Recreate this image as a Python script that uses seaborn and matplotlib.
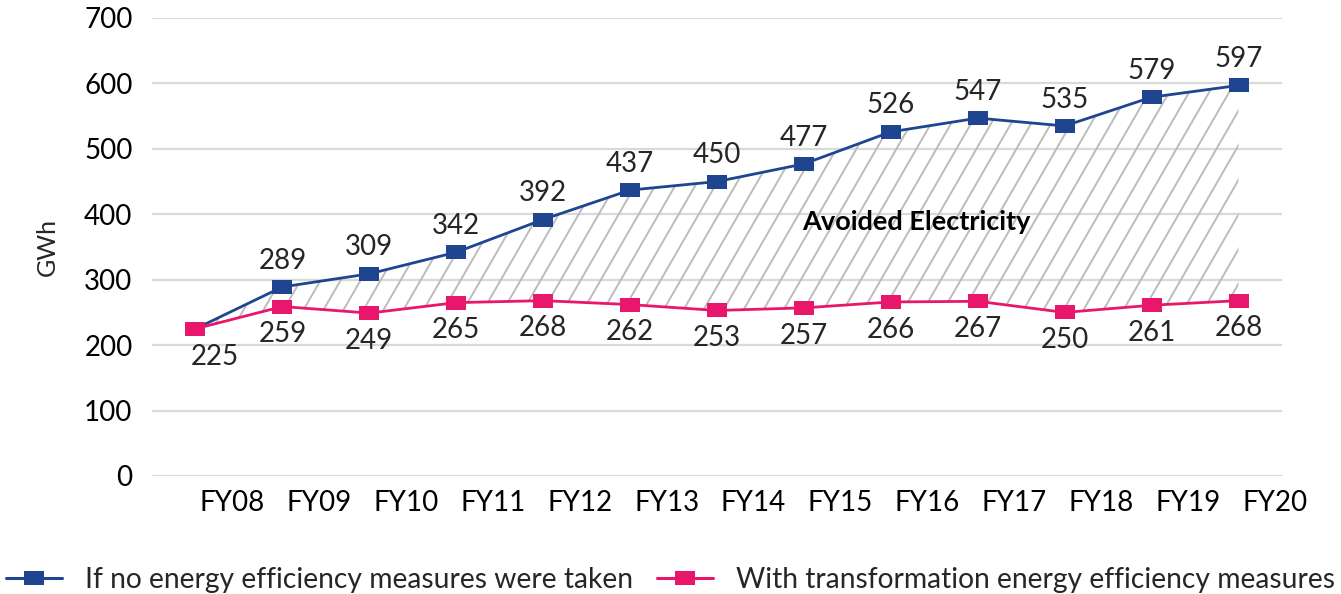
import numpy as np
import pandas as pd
import seaborn as sns
from matplotlib import pyplot as plt
from matplotlib.path import Path
from matplotlib.collections import LineCollection

# data
years = ["FY08", "FY09", "FY10", "FY11", "FY12", "FY13", "FY14",
         "FY15", "FY16", "FY17", "FY18", "FY19", "FY20"]
no_measures = [225, 289, 309, 342, 392, 437, 450, 477, 526, 547, 535, 579, 597]
with_measures = [225, 259, 249, 265, 268, 262, 253, 257, 266, 267, 250, 261, 268]
series_names = ["If no energy efficiency measures were taken",
                "With transformation energy efficiency measures"]

BLUE = "#1f4591"
PINK = "#e8176b"
GRID = "#d9d9d9"
HATCH = "#bcbcbc"

sns.set_style("white")
plt.rcParams["font.family"] = ["Lato", "DejaVu Sans"]

W, H = 1341, 594
fig = plt.figure(figsize=(W / 100, H / 100), dpi=100)
ax_l, ax_b, ax_w, ax_h = 152, 476, 1130, 458  # axes box in pixels
ax = fig.add_axes([ax_l / W, 1 - ax_b / H, ax_w / W, ax_h / H])

df = pd.DataFrame({
    "pos": list(range(len(years))) * 2,
    "GWh": no_measures + with_measures,
    "series": [series_names[0]] * len(years) + [series_names[1]] * len(years),
})

# slightly wide rectangle marker like the excel one
rect = Path([(-1, -0.72), (1, -0.72), (1, 0.72), (-1, 0.72), (-1, -0.72)],
            [Path.MOVETO, Path.LINETO, Path.LINETO, Path.LINETO, Path.CLOSEPOLY])

sns.lineplot(data=df, x="pos", y="GWh", hue="series",
             palette=[BLUE, PINK], marker=rect, markersize=14,
             markeredgewidth=0, linewidth=2.0, legend=False, ax=ax)

# hatched "avoided" area between the two lines
x = np.arange(len(years))
poly = ax.fill_between(x, with_measures, no_measures,
                       facecolor="none", edgecolor="none", linewidth=0, zorder=1)
clip_path = poly.get_paths()[0]
step = 20 / ax_w
run = (ax_h / np.tan(np.radians(60))) / ax_w
segs = [[(x0, 0), (x0 + run, 1)] for x0 in np.arange(-run, 1 + step, step)]
lc = LineCollection(segs, colors=HATCH, linewidths=1.4,
                    transform=ax.transAxes, zorder=1)
lc.set_clip_path(clip_path, ax.transData)
ax.add_collection(lc)

ax.text(8.29, 388, "Avoided Electricity", fontsize=19.5, fontweight="bold",
        ha="center", va="center", color="black")

# value labels
for i, v in enumerate(no_measures):
    if i == 0:
        continue
    ax.annotate(str(v), (i, v), xytext=(0, 19), textcoords="offset points",
                ha="center", va="center", fontsize=20)
for i, v in enumerate(with_measures):
    dx = 14 if i == 0 else 0
    ax.annotate(str(v), (i, v), xytext=(dx, -20), textcoords="offset points",
                ha="center", va="center", fontsize=20)

ax.set_xlim(-0.5, len(years) - 0.5)
ax.set_ylim(0, 700)
ax.set_yticks(range(0, 701, 100))
ax.set_xticks(x + 0.42)
ax.set_xticklabels(years)
ax.tick_params(axis="both", length=0, labelsize=20, colors="black")
ax.tick_params(axis="y", pad=14)
ax.tick_params(axis="x", pad=10)
ax.yaxis.grid(True, color=GRID, linewidth=1.6)
ax.set_axisbelow(True)
for s in ax.spines.values():
    s.set_visible(False)
ax.set_xlabel("")
ax.set_ylabel("GWh", fontsize=18, labelpad=18)

handles = [plt.Line2D([], [], color=c, linewidth=2.2, marker=rect,
                      markersize=14, markeredgewidth=0)
           for c in (BLUE, PINK)]
fig.legend(handles, series_names, loc="center", ncol=2,
           bbox_to_anchor=(0.5, 1 - 580 / H), frameon=False, fontsize=20.3,
           handlelength=2.0, handletextpad=0.8, columnspacing=0.85,
           borderpad=0)

fig.savefig("out.png", dpi=100)
